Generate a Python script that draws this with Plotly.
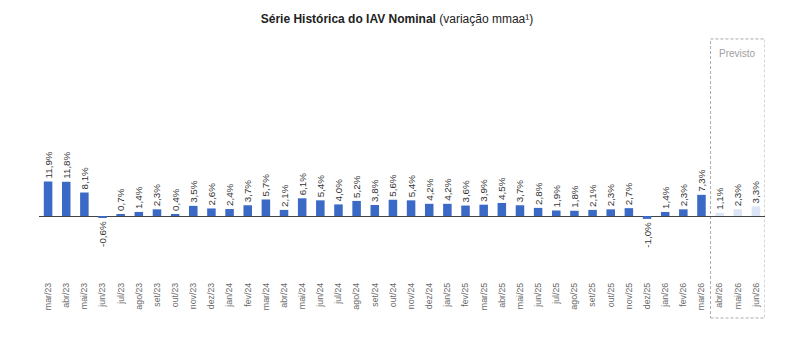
import plotly.graph_objects as go

months = ["mar/23", "abr/23", "mai/23", "jun/23", "jul/23", "ago/23", "set/23", "out/23", "nov/23", "dez/23",
          "jan/24", "fev/24", "mar/24", "abr/24", "mai/24", "jun/24", "jul/24", "ago/24", "set/24", "out/24", "nov/24", "dez/24",
          "jan/25", "fev/25", "mar/25", "abr/25", "mai/25", "jun/25", "jul/25", "ago/25", "set/25", "out/25", "nov/25", "dez/25",
          "jan/26", "fev/26", "mar/26", "abr/26", "mai/26", "jun/26"]
values = [11.9, 11.8, 8.1, -0.6, 0.7, 1.4, 2.3, 0.4, 3.5, 2.6,
          2.4, 3.7, 5.7, 2.1, 6.1, 5.4, 4.0, 5.2, 3.8, 5.6, 5.4, 4.2,
          4.2, 3.6, 3.9, 4.5, 3.7, 2.8, 1.9, 1.8, 2.1, 2.3, 2.7, -1.0,
          1.4, 2.3, 7.3, 1.1, 2.3, 3.3]
forecast = [False] * 37 + [True] * 3

ACTUAL = "#3b69c6"
FORECAST = "#dce5f5"
FONT = "Liberation Sans, Arial, sans-serif"

colors = [FORECAST if f else ACTUAL for f in forecast]

fig = go.Figure()
fig.add_trace(go.Bar(
    x=months, y=values,
    marker=dict(color=colors, line=dict(width=0)),
    text=values,
    texttemplate="%{y:.1f}%",
    textposition="outside",
    textangle=-90,
    textfont=dict(family=FONT, size=9.8, color="#333333"),
    cliponaxis=False,
    constraintext="none",
    hoverinfo="skip",
))

fig.add_shape(type="rect", xref="x", yref="paper",
              x0=36.5, x1=39.5, y0=-0.157, y1=0.996,
              line=dict(color="#aaaaaa", width=1, dash="3px,2px"),
              fillcolor="rgba(0,0,0,0)", layer="below")
fig.add_annotation(x=38, xref="x", y=0.965, yref="paper",
                   text="Previsto", showarrow=False,
                   font=dict(family=FONT, size=10, color="#a0a0a0"))

fig.update_layout(
    width=794, height=347,
    margin=dict(l=39, r=29, t=38, b=67),
    paper_bgcolor="white", plot_bgcolor="white",
    separators=",.",
    bargap=0.53,
    showlegend=False,
    font=dict(family=FONT),
    title=dict(
        text="<b>Série Histórica do IAV Nominal</b> (variação mmaa¹)",
        x=0.5, xref="container", xanchor="center",
        y=1 - 19 / 347, yref="container", yanchor="middle",
        font=dict(family=FONT, size=12, color="#222222"),
    ),
    xaxis=dict(
        type="category", tickangle=-90, showgrid=False, showline=False,
        ticks="", tickfont=dict(family=FONT, size=8.8, color="#6a6a6a"),
        range=[-0.5, 39.5],
    ),
    yaxis=dict(
        range=[-22.07, 61.38], showgrid=False, showticklabels=False,
        zeroline=True, zerolinecolor="#444444", zerolinewidth=1.3,
        showline=False, ticks="",
    ),
)

fig.write_html("out.html")
